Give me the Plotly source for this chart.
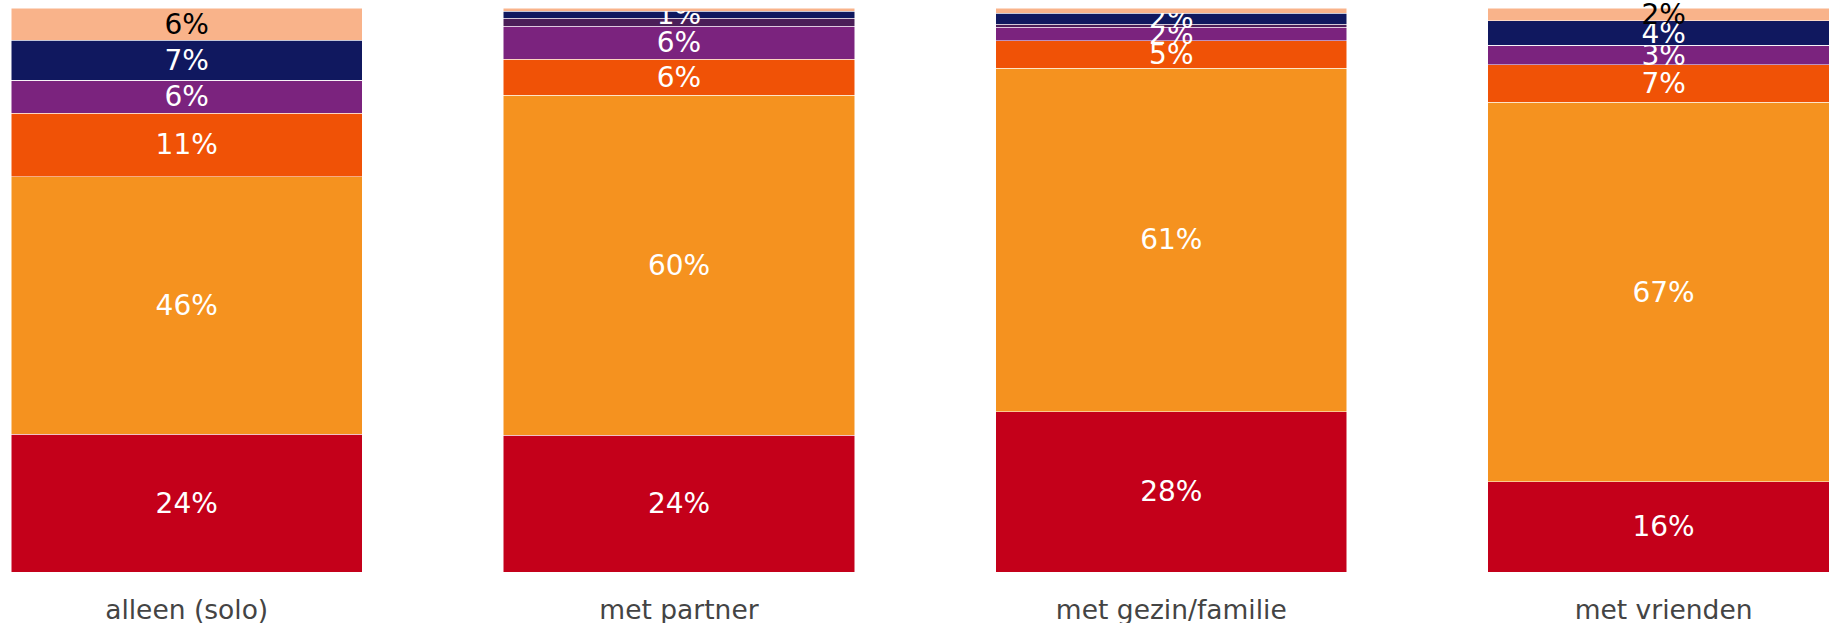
import plotly.graph_objects as go

categories = ["alleen (solo)", "met partner", "met gezin/familie", "met vrienden"]

# stacked from bottom to top
red_vals = [24.4, 24.3, 28.4, 16.0]
orange_vals = [45.7, 60.3, 61.0, 67.3]
orangered_vals = [11.3, 6.4, 4.8, 6.7]
purple_vals = [5.8, 5.8, 2.4, 3.4]
darkpurple_vals = [0.0, 1.4, 0.6, 0.0]
navy_vals = [7.1, 1.3, 1.9, 4.4]
peach_vals = [5.7, 0.5, 0.9, 2.2]

series = [
    ("rood", red_vals, "#c4001a", "white", True),
    ("oranje", orange_vals, "#f5921f", "white", True),
    ("oranjerood", orangered_vals, "#f05206", "white", True),
    ("paars", purple_vals, "#7b237e", "white", True),
    ("donkerpaars", darkpurple_vals, "#4b1e58", "white", False),
    ("donkerblauw", navy_vals, "#10185f", "white", True),
    ("perzik", peach_vals, "#f9b38a", "black", True),
]

FONT = "Verdana, DejaVu Sans, sans-serif"

fig = go.Figure()
for name, vals, color, tcolor, labelled in series:
    texts = [f"{v:.0f}%" if (labelled and v >= 1) else "" for v in vals]
    fig.add_trace(go.Bar(
        x=categories,
        y=vals,
        name=name,
        marker=dict(color=color, line=dict(color="white", width=0.5)),
        text=texts,
        textposition="inside",
        insidetextanchor="middle",
        textangle=0,
        textfont=dict(family=FONT, size=28, color=tcolor),
        insidetextfont=dict(family=FONT, size=28, color=tcolor),
        cliponaxis=False,
        hoverinfo="skip",
    ))

fig.update_layout(
    template="plotly_white",
    barmode="stack",
    bargap=0.2864,
    showlegend=False,
    width=1829,
    height=623,
    autosize=False,
    margin=dict(l=0, r=0, t=8, b=51, pad=0),
    uniformtext=dict(mode="show", minsize=28),
    paper_bgcolor="white",
    plot_bgcolor="white",
    font=dict(family=FONT, size=26.5, color="#444"),
    xaxis=dict(
        range=[-0.3792, 3.336],
        showgrid=False,
        zeroline=False,
        showline=False,
        automargin=False,
        ticklabelstandoff=19,
        tickfont=dict(family=FONT, size=26.5, color="#444"),
    ),
    yaxis=dict(range=[0, 100.05], visible=False, showgrid=False),
)

fig.write_html(
    "out.html",
    config={"displayModeBar": False},
    post_script="document.body.style.margin='0';document.body.style.overflow='hidden';",
)
